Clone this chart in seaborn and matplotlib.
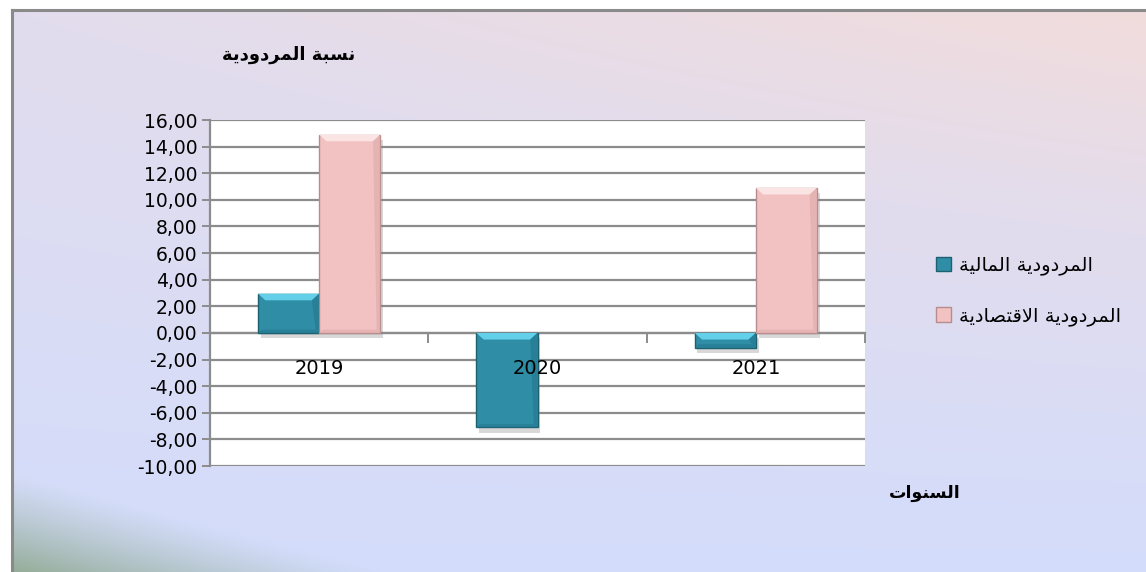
import numpy as np
import pandas as pd
import seaborn as sns
import matplotlib.pyplot as plt
import matplotlib.patheffects as pe
from matplotlib.patches import Polygon, Patch
from matplotlib.ticker import FixedLocator, FuncFormatter

# data
years = ["2019", "2020", "2021"]
financial = [2.95, -7.10, -1.10]      # المردودية المالية
economic = [14.90, np.nan, 10.90]     # المردودية الاقتصادية
series_names = ["المردودية المالية", "المردودية الاقتصادية"]
y_title = "نسبة المردودية"
x_title = "السنوات"

TEAL = "#2f8ea6"
PINK = "#f2c2c2"

# --- tiny arabic shaper (matplotlib has no shaping / bidi) ---
FORMS = {
    'ا': ('\uFE8D', '\uFE8E', None, None),
    'ب': ('\uFE8F', '\uFE90', '\uFE91', '\uFE92'),
    'ة': ('\uFE93', '\uFE94', None, None),
    'ت': ('\uFE95', '\uFE96', '\uFE97', '\uFE98'),
    'د': ('\uFEA9', '\uFEAA', None, None),
    'ر': ('\uFEAD', '\uFEAE', None, None),
    'س': ('\uFEB1', '\uFEB2', '\uFEB3', '\uFEB4'),
    'ص': ('\uFEB9', '\uFEBA', '\uFEBB', '\uFEBC'),
    'ق': ('\uFED5', '\uFED6', '\uFED7', '\uFED8'),
    'ل': ('\uFEDD', '\uFEDE', '\uFEDF', '\uFEE0'),
    'م': ('\uFEE1', '\uFEE2', '\uFEE3', '\uFEE4'),
    'ن': ('\uFEE5', '\uFEE6', '\uFEE7', '\uFEE8'),
    'و': ('\uFEED', '\uFEEE', None, None),
    'ي': ('\uFEF1', '\uFEF2', '\uFEF3', '\uFEF4'),
}


def dual(c):
    return c in FORMS and FORMS[c][2] is not None


def shape(text):
    out = []
    i = 0
    n = len(text)
    while i < n:
        c = text[i]
        if c not in FORMS:
            out.append(c)
            i += 1
            continue
        prev = text[i - 1] if i > 0 else ''
        joins_prev = dual(prev)
        # lam-alef ligature
        if c == 'ل' and i + 1 < n and text[i + 1] == 'ا':
            out.append('\uFEFC' if joins_prev else '\uFEFB')
            i += 2
            continue
        nxt = text[i + 1] if i + 1 < n else ''
        joins_next = dual(c) and nxt in FORMS
        iso, fin, ini, med = FORMS[c]
        if joins_prev and joins_next:
            out.append(med)
        elif joins_prev:
            out.append(fin)
        elif joins_next:
            out.append(ini)
        else:
            out.append(iso)
        i += 1
    return ''.join(out)[::-1]


sns.set_style("white")
plt.rcParams['font.family'] = ['DejaVu Sans']
plt.rcParams['text.color'] = 'black'
plt.rcParams['xtick.labelcolor'] = 'black'
plt.rcParams['ytick.labelcolor'] = 'black'

df = pd.DataFrame({
    "year": years * 2,
    "value": financial + economic,
    "series": [series_names[0]] * 3 + [series_names[1]] * 3,
})

fig = plt.figure(figsize=(11.46, 5.72), dpi=100)
fig.patch.set_facecolor("white")

# gradient background (office style)
W, H = 1134, 562
xx, yy = np.meshgrid(np.arange(W) + 12, np.arange(H) + 10)
u = (xx - 12) / W
v = (yy - 10) / H
d = np.clip((1 - v) * (0.6 + 0.4 * u), 0, 1)[..., None]
blue = np.array([211, 221, 252]) / 255
lav = np.array([226, 220, 237]) / 255
pink = np.array([242, 220, 220]) / 255
low = blue + (lav - blue) * np.clip(d / 0.6, 0, 1)
img = np.where(d < 0.6, low, lav + (pink - lav) * np.clip((d - 0.6) / 0.4, 0, 1))
s = np.clip((yy - 470 - 0.27 * (xx - 12)) / 102, 0, 1)[..., None] ** 1.2
green = np.array([148, 172, 152]) / 255
img = img * (1 - s) + green * s

bg = fig.add_axes([12 / 1146, 0, 1 - 12 / 1146, 1 - 10 / 572], zorder=-10)
bg.imshow(img, aspect='auto', extent=[0, 1, 0, 1], interpolation='bilinear')
bg.set_xlim(0, 1)
bg.set_ylim(0, 1)
bg.set_xticks([])
bg.set_yticks([])
for side in ["right", "bottom"]:
    bg.spines[side].set_visible(False)
for side in ["left", "top"]:
    bg.spines[side].set_color("#8a8a8a")
    bg.spines[side].set_linewidth(2.2)

ax = fig.add_axes([210 / 1146, 1 - 466 / 572, 655 / 1146, 346 / 572])
ax.set_facecolor("white")
sns.barplot(data=df, x="year", y="value", hue="series", order=years,
            hue_order=series_names, palette=[TEAL, PINK], width=0.56,
            saturation=1, errorbar=None, legend=False, ax=ax, zorder=3)

ax.set_ylim(-10, 16)
ax.set_xlim(-0.5, 2.5)
ax.set_yticks(np.arange(-10, 17, 2))
ax.yaxis.set_major_formatter(FuncFormatter(lambda val, pos: f"{val:.2f}".replace('.', ',')))
ax.grid(axis='y', color="#8c8c8c", linewidth=1.6, zorder=0)
ax.set_axisbelow(True)
ax.xaxis.set_zorder(6)
ax.set_xlabel("")
ax.set_ylabel("")

for side in ["top", "right"]:
    ax.spines[side].set_visible(False)
ax.spines["left"].set_color("#8c8c8c")
ax.spines["left"].set_linewidth(1.6)
ax.spines["bottom"].set_position(("data", 0))
ax.spines["bottom"].set_color("#8c8c8c")
ax.spines["bottom"].set_linewidth(1.6)
ax.spines["bottom"].set_zorder(2.5)

ax.tick_params(axis='y', length=6, width=1.4, color="#8c8c8c", direction='out',
               labelsize=13.5, pad=3, left=True, labelcolor='black')
ax.xaxis.set_minor_locator(FixedLocator([0.5, 1.5, 2.5]))
ax.tick_params(axis='x', which='minor', length=7, width=1.4, color="#8c8c8c",
               direction='out', bottom=True)
ax.tick_params(axis='x', which='major', length=0, labelsize=14, pad=19, labelcolor='black')

# bevel + shadow on the bars
shadow = [pe.SimplePatchShadow(offset=(2, -4), shadow_rgbFace="#808080", alpha=0.3), pe.Normal()]
edge_cols = ["#1d6070", "#b88c8c"]
light_cols = ["#63cfe8", "#fbe4e4"]
dark_cols = ["#22788e", "#deaaaa"]
for k, cont in enumerate(ax.containers):
    for bar in cont:
        h = bar.get_height()
        if not np.isfinite(h) or h == 0:
            continue
        bar.set_edgecolor(edge_cols[k])
        bar.set_linewidth(1.0)
        bar.set_path_effects(shadow)
        x0 = bar.get_x()
        x1 = x0 + bar.get_width()
        top = max(bar.get_y(), bar.get_y() + h)
        bot = min(bar.get_y(), bar.get_y() + h)
        dx = bar.get_width() * 0.12
        dy = min(0.5, (top - bot) / 2.2)
        ax.add_patch(Polygon([(x0, top), (x1, top), (x1 - dx, top - dy), (x0 + dx, top - dy)],
                             closed=True, facecolor=light_cols[k], edgecolor='none', zorder=4))
        ax.add_patch(Polygon([(x1, top), (x1, bot), (x1 - dx * 0.5, bot + dy * 0.5), (x1 - dx, top - dy)],
                             closed=True, facecolor=dark_cols[k], edgecolor='none', zorder=4, alpha=0.6))
        ax.add_patch(Polygon([(x0, bot), (x1, bot), (x1 - dx * 0.5, bot + dy * 0.5), (x0 + dx * 0.5, bot + dy * 0.5)],
                             closed=True, facecolor=dark_cols[k], edgecolor='none', zorder=4, alpha=0.6))

# legend
handles = [Patch(facecolor=TEAL, edgecolor=edge_cols[0]), Patch(facecolor=PINK, edgecolor=edge_cols[1])]
fig.legend(handles, [shape(t) for t in series_names], loc='center left',
           bbox_to_anchor=(918 / 1146, 1 - 291 / 572), frameon=False, fontsize=14,
           handlelength=0.8, handleheight=0.8, handletextpad=0.4, labelspacing=1.6)

fig.text(222 / 1146, 1 - 55 / 572, shape(y_title), fontsize=13, fontweight='bold',
         ha='left', va='center', color='black')
fig.text(925 / 1146, 1 - 493 / 572, shape(x_title), fontsize=12.5, fontweight='bold',
         ha='center', va='center', color='black')

plt.savefig("out.png", dpi=100)
